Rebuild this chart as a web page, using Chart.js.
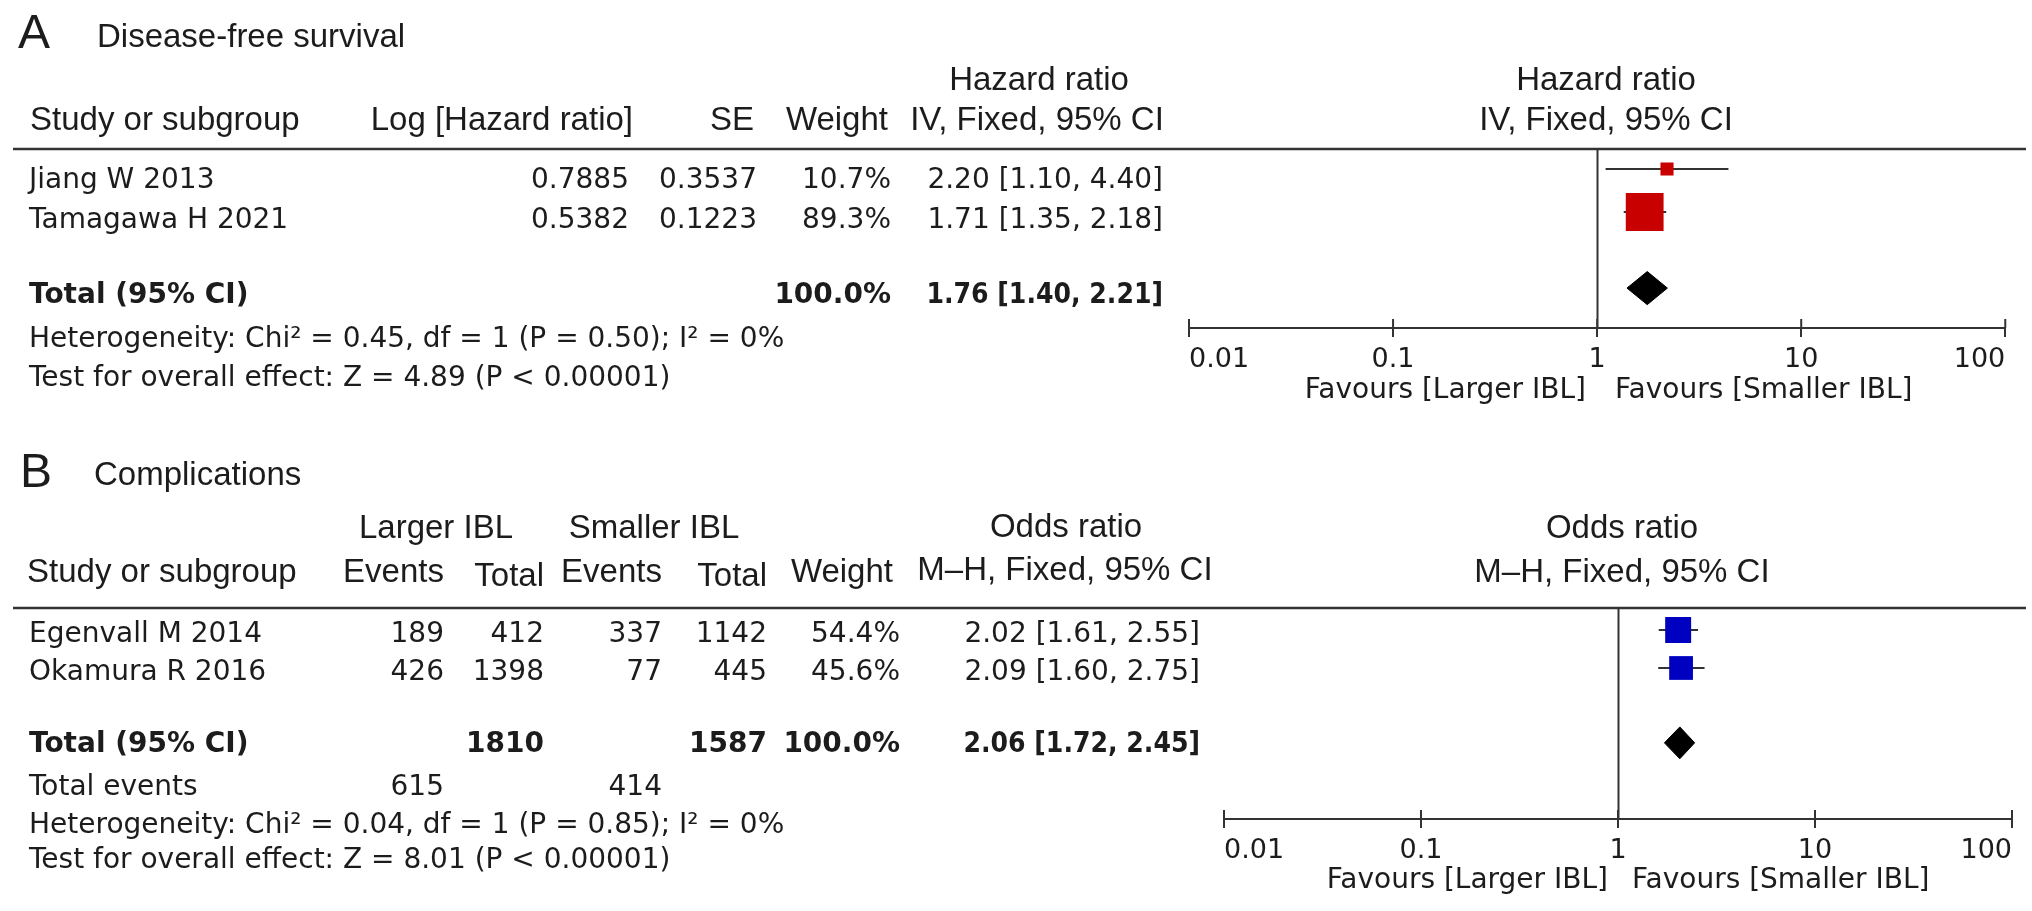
<!DOCTYPE html>
<html>
<head>
<meta charset="utf-8">
<title>Forest plots - IBL</title>
<script src="https://cdn.jsdelivr.net/npm/chart.js@4.4.1/dist/chart.umd.min.js"></script>
<style>
  html, body { margin: 0; padding: 0; background: #fff; }
  #page { position: relative; width: 2032px; height: 911px; overflow: hidden; }
  #page canvas { position: absolute; }
  #txt { position: absolute; left: 0; top: 0; pointer-events: none; }
  #txt text { fill: #1c1c1c; }
  .letter { font-family: 'Liberation Sans', Arial, sans-serif; font-size: 48px; }
  .h { font-family: 'Liberation Sans', Arial, sans-serif; font-size: 33px; }
  .d { font-family: 'DejaVu Sans', Verdana, sans-serif; font-size: 28px; }
  .b { font-weight: bold; }
  .bc { font-family: 'DejaVu Sans Condensed', 'DejaVu Sans', sans-serif; font-stretch: condensed; font-weight: bold; }
</style>
</head>
<body>
<div id="page">
  <canvas id="plotA" width="882" height="320" style="left:1150px;top:100px"></canvas>
  <canvas id="plotB" width="882" height="320" style="left:1150px;top:560px"></canvas>
  <svg id="txt" width="2032" height="911" xmlns="http://www.w3.org/2000/svg"></svg>
</div>
<script>
// A - disease-free survival
var studiesA = ['Jiang W 2013', 'Tamagawa H 2021'];
var logHrA = [0.7885, 0.5382];
var seA = [0.3537, 0.1223];
var weightA = [10.7, 89.3];
var hrA = [2.20, 1.71];
var hrLowA = [1.10, 1.35];
var hrHighA = [4.40, 2.18];
var totalA = [1.76, 1.40, 2.21]; // estimate, low, high
var footA = ['Heterogeneity: Chi\u00b2 = 0.45, df = 1 (P = 0.50); I\u00b2 = 0%',
             'Test for overall effect: Z = 4.89 (P < 0.00001)'];

// B - complications
var studiesB = ['Egenvall M 2014', 'Okamura R 2016'];
var eventsLarger = [189, 426];
var totalLarger = [412, 1398];
var eventsSmaller = [337, 77];
var totalSmaller = [1142, 445];
var weightB = [54.4, 45.6];
var orB = [2.02, 2.09];
var orLowB = [1.61, 1.60];
var orHighB = [2.55, 2.75];
var totalB = [2.06, 1.72, 2.45];
var footB = ['Heterogeneity: Chi\u00b2 = 0.04, df = 1 (P = 0.85); I\u00b2 = 0%',
             'Test for overall effect: Z = 8.01 (P < 0.00001)'];

var tickValues = [0.01, 0.1, 1, 10, 100];
var tickLabels = ['0.01', '0.1', '1', '10', '100'];

// ---------- text ----------
var svg = document.getElementById('txt');
function txt(s, x, y, cls, anchor) {
  var t = document.createElementNS('http://www.w3.org/2000/svg', 'text');
  t.setAttribute('x', x);
  t.setAttribute('y', y);
  t.setAttribute('class', cls);
  if (anchor) t.setAttribute('text-anchor', anchor);
  t.textContent = s;
  svg.appendChild(t);
}
function rule(y) {
  var l = document.createElementNS('http://www.w3.org/2000/svg', 'line');
  l.setAttribute('x1', 13); l.setAttribute('x2', 2026);
  l.setAttribute('y1', y); l.setAttribute('y2', y);
  l.setAttribute('stroke', '#333'); l.setAttribute('stroke-width', 2.5);
  svg.appendChild(l);
}
function sum(a) { return a.reduce(function (p, c) { return p + c; }, 0); }
function ci(e, lo, hi) { return e.toFixed(2) + ' [' + lo.toFixed(2) + ', ' + hi.toFixed(2) + ']'; }

// panel A table
txt('A', 18, 48, 'letter');
txt('Disease-free survival', 97, 47, 'h');
txt('Hazard ratio', 1039, 90, 'h', 'middle');
txt('Hazard ratio', 1606, 90, 'h', 'middle');
txt('Study or subgroup', 30, 130, 'h');
txt('Log [Hazard ratio]', 633, 130, 'h', 'end');
txt('SE', 754, 130, 'h', 'end');
txt('Weight', 888, 130, 'h', 'end');
txt('IV, Fixed, 95% CI', 1037, 130, 'h', 'middle');
txt('IV, Fixed, 95% CI', 1606, 130, 'h', 'middle');
rule(149);
var rowYA = [188, 228];
studiesA.forEach(function (s, i) {
  var y = rowYA[i];
  txt(s, 29, y, 'd');
  txt(logHrA[i].toFixed(4), 629, y, 'd', 'end');
  txt(seA[i].toFixed(4), 757, y, 'd', 'end');
  txt(weightA[i].toFixed(1) + '%', 891, y, 'd', 'end');
  txt(ci(hrA[i], hrLowA[i], hrHighA[i]), 1163, y, 'd', 'end');
});
txt('Total (95% CI)', 29, 303, 'd b');
txt(sum(weightA).toFixed(1) + '%', 891, 303, 'd b', 'end');
txt(ci(totalA[0], totalA[1], totalA[2]), 1163, 303, 'd bc', 'end');
txt(footA[0], 29, 347, 'd');
txt(footA[1], 29, 386, 'd');
txt('Favours [Larger IBL]', 1586, 398, 'd', 'end');
txt('Favours [Smaller IBL]', 1615, 398, 'd');

// panel B table
txt('B', 20, 487, 'letter');
txt('Complications', 94, 485, 'h');
txt('Larger IBL', 436, 538, 'h', 'middle');
txt('Smaller IBL', 654, 538, 'h', 'middle');
txt('Odds ratio', 1066, 537, 'h', 'middle');
txt('Odds ratio', 1622, 538, 'h', 'middle');
txt('Study or subgroup', 27, 582, 'h');
txt('Events', 444, 582, 'h', 'end');
txt('Total', 544, 586, 'h', 'end');
txt('Events', 662, 582, 'h', 'end');
txt('Total', 767, 586, 'h', 'end');
txt('Weight', 893, 582, 'h', 'end');
txt('M\u2013H, Fixed, 95% CI', 1065, 580, 'h', 'middle');
txt('M\u2013H, Fixed, 95% CI', 1622, 582, 'h', 'middle');
rule(608);
var rowYB = [642, 680];
studiesB.forEach(function (s, i) {
  var y = rowYB[i];
  txt(s, 29, y, 'd');
  txt(String(eventsLarger[i]), 444, y, 'd', 'end');
  txt(String(totalLarger[i]), 544, y, 'd', 'end');
  txt(String(eventsSmaller[i]), 662, y, 'd', 'end');
  txt(String(totalSmaller[i]), 767, y, 'd', 'end');
  txt(weightB[i].toFixed(1) + '%', 900, y, 'd', 'end');
  txt(ci(orB[i], orLowB[i], orHighB[i]), 1200, y, 'd', 'end');
});
txt('Total (95% CI)', 29, 752, 'd b');
txt(String(sum(totalLarger)), 544, 752, 'd b', 'end');
txt(String(sum(totalSmaller)), 767, 752, 'd b', 'end');
txt(sum(weightB).toFixed(1) + '%', 900, 752, 'd b', 'end');
txt(ci(totalB[0], totalB[1], totalB[2]), 1200, 752, 'd bc', 'end');
txt('Total events', 29, 795, 'd');
txt(String(sum(eventsLarger)), 444, 795, 'd', 'end');
txt(String(sum(eventsSmaller)), 662, 795, 'd', 'end');
txt(footB[0], 29, 833, 'd');
txt(footB[1], 29, 868, 'd');
txt('Favours [Larger IBL]', 1608, 888, 'd', 'end');
txt('Favours [Smaller IBL]', 1632, 888, 'd');

// ---------- forest plots ----------
var forestLines = {
  id: 'forestLines',
  beforeDatasetsDraw: function (chart) {
    var ctx = chart.ctx, xs = chart.scales.x, a = chart.chartArea;
    var x1 = Math.round(xs.getPixelForValue(1)) + 0.5;
    ctx.save();
    ctx.strokeStyle = '#333';
    ctx.lineWidth = 2;
    ctx.beginPath();
    ctx.moveTo(x1, a.top);
    ctx.lineTo(x1, a.bottom);
    // upper half of the axis ticks
    tickValues.forEach(function (v) {
      var x = xs.getPixelForValue(v);
      ctx.moveTo(x, a.bottom);
      ctx.lineTo(x, a.bottom - 9);
    });
    ctx.stroke();
    ctx.restore();
  }
};

function forest(id, o) {
  var datasets = [];
  datasets.push({
    data: o.est.map(function (v, i) { return { x: v, y: o.rows[i] }; }),
    pointStyle: 'rect',
    pointRadius: o.weight.map(function (w) { return o.boxScale * Math.sqrt(w) / Math.SQRT2; }),
    backgroundColor: o.color, pointBackgroundColor: o.color,
    pointBorderWidth: 0, borderWidth: 0, showLine: false
  });
  var r = o.totalRow, h = o.diamondHalf, t = o.total;
  datasets.push({
    data: [{ x: t[1], y: r }, { x: t[0], y: r - h }, { x: t[2], y: r }, { x: t[0], y: r + h }, { x: t[1], y: r }],
    showLine: true, fill: 'shape', tension: 0,
    backgroundColor: '#000', borderColor: '#000', borderWidth: 1, pointRadius: 0
  });
  o.est.forEach(function (v, i) {
    datasets.push({
      data: [{ x: o.lo[i], y: o.rows[i] }, { x: o.hi[i], y: o.rows[i] }],
      showLine: true, borderColor: '#333', borderWidth: 2, pointRadius: 0
    });
  });

  return new Chart(document.getElementById(id), {
    type: 'scatter',
    data: { datasets: datasets },
    plugins: [forestLines],
    options: {
      animation: false,
      responsive: false,
      devicePixelRatio: 1,
      events: [],
      layout: { padding: o.pad },
      plugins: { legend: { display: false }, tooltip: { enabled: false } },
      scales: {
        x: {
          type: 'logarithmic', min: 0.01, max: 100,
          afterBuildTicks: function (s) { s.ticks = tickValues.map(function (v) { return { value: v }; }); },
          afterFit: function (s) { s.height = 60; },
          grid: { display: true, drawOnChartArea: false, drawTicks: true, tickLength: 9, color: '#333', lineWidth: 2 },
          border: { display: true, color: '#333', width: 2 },
          ticks: {
            align: 'inner', padding: 7, autoSkip: false, maxRotation: 0,
            color: '#1c1c1c', font: { family: 'DejaVu Sans', size: 27 },
            callback: function (v, i) { return tickLabels[i]; }
          }
        },
        y: { type: 'linear', reverse: true, min: o.yMin, max: o.yMax, display: false }
      }
    }
  });
}

forest('plotA', {
  est: hrA, lo: hrLowA, hi: hrHighA, weight: weightA, total: totalA,
  rows: [1, 2], totalRow: 3.77, yMin: 0.535, yMax: 4.698,
  boxScale: 4.0, diamondHalf: 0.385, color: '#c80000',
  pad: { left: 39, right: 20, top: 49, bottom: 32 }
});

forest('plotB', {
  est: orB, lo: orLowB, hi: orHighB, weight: weightB, total: totalB,
  rows: [1, 2], totalRow: 3.97, yMin: 0.421, yMax: 5.974,
  boxScale: 3.52, diamondHalf: 0.42, color: '#0000c0',
  pad: { left: 74, right: 20, top: 48, bottom: 1 }
});
</script>
</body>
</html>
